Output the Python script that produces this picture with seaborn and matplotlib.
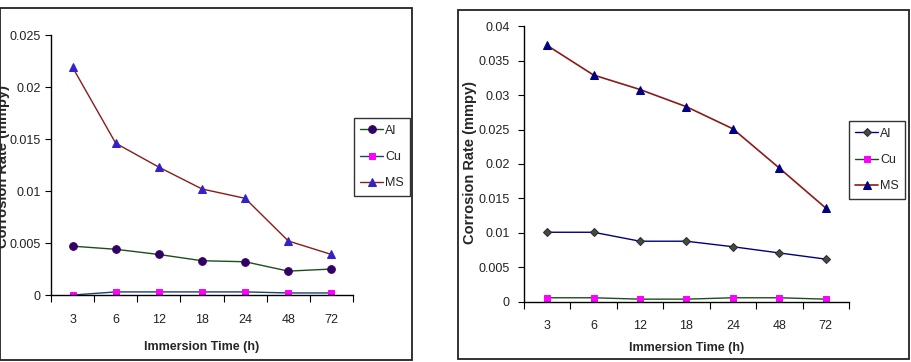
import matplotlib
matplotlib.use("Agg")
import matplotlib.pyplot as plt
import matplotlib.patches as patches
from matplotlib.ticker import FixedLocator
import seaborn as sns

# immersion times (h) and corrosion rates (mmpy)
times = ["3", "6", "12", "18", "24", "48", "72"]

left_al = [0.0047, 0.0044, 0.0039, 0.0033, 0.0032, 0.0023, 0.0025]
left_cu = [0.0000, 0.0003, 0.0003, 0.0003, 0.0003, 0.0002, 0.0002]
left_ms = [0.0219, 0.0146, 0.0123, 0.0102, 0.0093, 0.0052, 0.0039]

right_al = [0.0101, 0.0101, 0.0088, 0.0088, 0.0080, 0.0071, 0.0062]
right_cu = [0.0006, 0.0006, 0.0004, 0.0004, 0.0006, 0.0006, 0.0004]
right_ms = [0.0372, 0.0329, 0.0308, 0.0283, 0.0251, 0.0194, 0.0136]

sns.set_style("white")
plt.rcParams['font.family'] = ['Liberation Sans', 'DejaVu Sans']

fig = plt.figure(figsize=(9.11, 3.62), dpi=100)

# outer frames round each chart
fig.patches.append(patches.Rectangle((0.0, 0.0055), 0.452, 0.972, transform=fig.transFigure,
                                     fill=False, edgecolor='#222222', linewidth=1.3))
fig.patches.append(patches.Rectangle((0.5027, 0.0083), 0.495, 0.964, transform=fig.transFigure,
                                     fill=False, edgecolor='#222222', linewidth=1.3))

ax1 = fig.add_axes([0.056, 0.185, 0.3315, 0.718])
ax2 = fig.add_axes([0.575, 0.166, 0.357, 0.762])

# left chart
sns.lineplot(x=times, y=left_al, ax=ax1, color='#1e4d1e', lw=1, marker='o', ms=5.5,
             markerfacecolor='#330066', markeredgecolor='#330066', label='Al', sort=False)
sns.lineplot(x=times, y=left_cu, ax=ax1, color='#1f3f6f', lw=1, marker='s', ms=5,
             markerfacecolor='#ff00ff', markeredgecolor='#ff00ff', label='Cu', sort=False)
sns.lineplot(x=times, y=left_ms, ax=ax1, color='#8b1a1a', lw=1, marker='^', ms=6,
             markerfacecolor='#3322cc', markeredgecolor='#3322cc', label='MS', sort=False)

# right chart
sns.lineplot(x=times, y=right_al, ax=ax2, color='#000080', lw=1, marker='D', ms=4.5,
             markerfacecolor='#2e5a2e', markeredgecolor='#4a1a4a', label='Al', sort=False)
sns.lineplot(x=times, y=right_cu, ax=ax2, color='#1e4d1e', lw=1, marker='s', ms=5,
             markerfacecolor='#ff00ff', markeredgecolor='#ff00ff', label='Cu', sort=False)
sns.lineplot(x=times, y=right_ms, ax=ax2, color='#8b1a1a', lw=1.2, marker='^', ms=6,
             markerfacecolor='#000080', markeredgecolor='#000080', label='MS', sort=False)

for ax, ymax, ypad, xpad in [(ax1, 0.025, 3.5, 13.5), (ax2, 0.04, 6, 13)]:
    step = 0.005
    ax.set_xlim(-0.5, len(times) - 0.5)
    ax.set_ylim(0, ymax)
    yt = [round(i * step, 3) for i in range(int(round(ymax / step)) + 1)]
    ax.set_yticks(yt)
    ax.set_yticklabels(['0' if v == 0 else ('%g' % v) for v in yt])
    ax.set_xticks(range(len(times)))
    ax.set_xticklabels(times)
    # excel style: ticks sit between the categories
    ax.xaxis.set_minor_locator(FixedLocator([i - 0.5 for i in range(len(times) + 1)]))
    ax.tick_params(axis='x', which='major', length=0, labelsize=9, pad=xpad, labelcolor='#222222')
    ax.tick_params(axis='x', which='minor', length=5, width=0.8, direction='out', bottom=True, color='black')
    ax.tick_params(axis='y', which='major', length=4, width=0.8, direction='out', left=True,
                   labelsize=9, pad=ypad, color='black', labelcolor='#222222')
    for s in ['top', 'right']:
        ax.spines[s].set_visible(False)
    for s in ['left', 'bottom']:
        ax.spines[s].set_color('black')
        ax.spines[s].set_linewidth(1)
    ax.set_ylabel('')
    ax.set_facecolor('white')

ax1.set_xlabel('Immersion Time (h)', fontsize=9, fontweight='bold', labelpad=11)
ax2.set_xlabel('Immersion Time (h)', fontsize=9, fontweight='bold', labelpad=7)

fig.text(0.0033, 0.541, 'Corrosion Rate (mmpy)', rotation=90, ha='center', va='center',
         fontsize=10.5, fontweight='bold')
fig.text(0.516, 0.552, 'Corrosion Rate (mmpy)', rotation=90, ha='center', va='center',
         fontsize=10.5, fontweight='bold')

for ax, anchor in [(ax1, (354 / 911, 0.566)), (ax2, (849 / 911, 0.558))]:
    leg = ax.legend(loc='center left', bbox_to_anchor=anchor, bbox_transform=fig.transFigure,
                    fontsize=9, frameon=True, fancybox=False, edgecolor='black',
                    handlelength=1.8, handletextpad=0.2, borderpad=0.5, labelspacing=1.15,
                    borderaxespad=0)
    leg.get_frame().set_linewidth(1)

fig.savefig('out.png', dpi=100)
